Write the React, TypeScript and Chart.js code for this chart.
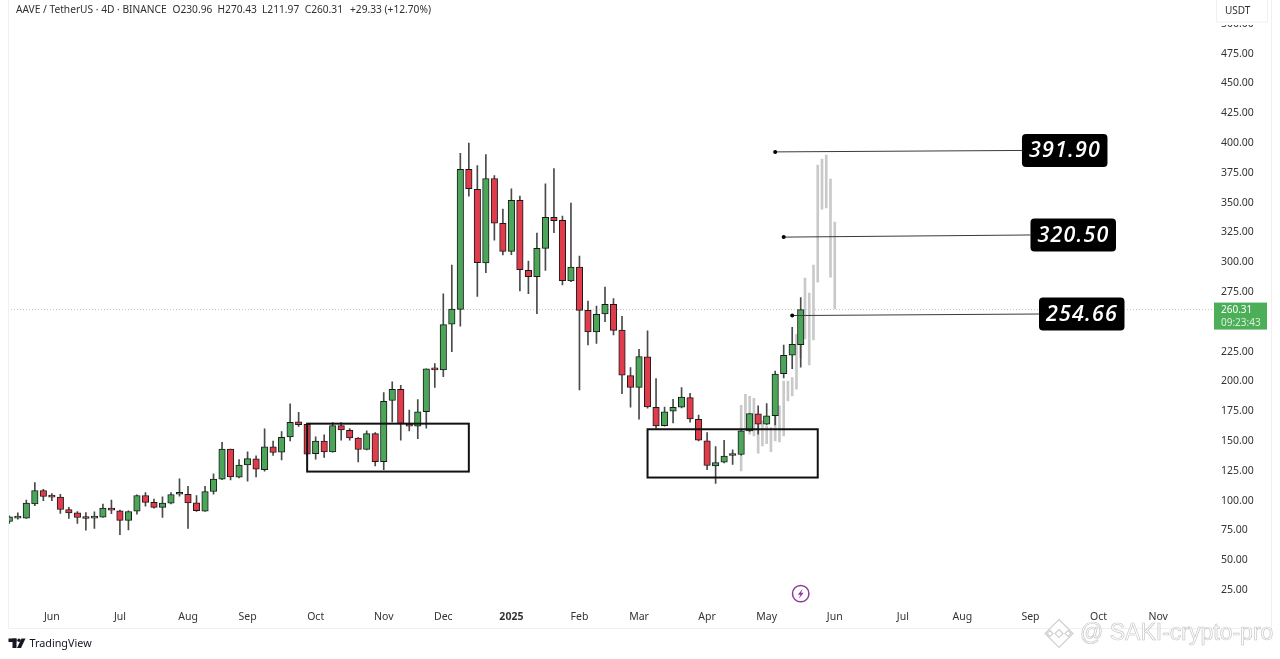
import React, { useEffect, useRef } from "react";
import { Chart, registerables } from "chart.js";

Chart.register(...registerables);

const opens = [82.5,85.3,85.3,97.3,108.5,103.5,102.9,92.6,89.8,85.3,85.3,86.2,93.1,91.5,83.4,91.2,104.3,98.5,94.3,97.9,105.4,105.4,98.2,91.2,107.7,118.0,143.2,119.7,130.0,135.0,126.1,145.1,140.6,153.5,166.1,164.1,139.5,149.9,140.9,163.0,159.1,152.4,142.9,156.3,132.8,184.0,193.5,164.1,162.5,174.7,210.2,209.7,248.0,260.5,377.9,361.1,299.4,370.3,332.6,309.1,351.9,293.2,287.9,311.7,337.6,335.1,284.3,296.0,259.7,241.5,256.6,264.7,243.2,204.9,195.1,220.6,178.4,163.0,175.0,178.4,186.5,168.3,150.2,129.2,132.3,137.9,138.7,158.5,172.8,164.1,171.4,206.6,222.0,230.96];
const highs = [87.3,89.8,100.4,115.2,109.6,106.0,105.4,94.3,90.9,90.1,90.6,97.1,100.4,92.0,91.5,104.9,106.8,101.3,103.2,106.8,118.3,112.1,104.3,112.1,122.5,149.0,143.2,134.5,140.9,137.6,160.2,149.9,158.0,181.2,174.2,164.7,153.5,155.2,165.5,165.5,160.5,153.0,158.5,157.1,190.7,199.6,196.8,175.9,184.8,210.5,215.0,273.6,297.7,391.3,399.9,381.2,390.4,372.8,344.6,361.7,355.5,301.0,324.5,365.9,378.7,338.8,349.6,305.2,267.5,263.3,279.2,269.5,254.6,211.6,227.0,242.4,202.4,178.6,185.1,194.8,190.1,171.7,157.1,145.4,150.7,142.6,159.9,173.1,179.5,181.4,208.8,230.6,245.4,270.43];
const lows = [80.9,84.5,85.0,95.7,99.9,99.9,89.2,85.0,80.9,75.3,76.7,85.9,89.0,71.4,75.5,88.7,95.4,93.7,85.9,97.3,103.8,76.7,90.9,90.9,105.4,117.7,117.4,119.1,116.3,120.0,124.7,137.9,134.2,150.1,162.2,137.6,134.8,136.2,140.7,150.7,150.7,132.6,142.6,129.2,126.1,166.1,150.7,158.5,152.1,160.8,194.9,204.1,225.0,246.3,355.5,271.4,291.3,318.6,306.1,306.3,275.9,273.7,256.9,293.2,324.8,280.9,283.7,192.9,230.6,232.0,250.2,239.0,189.8,178.4,168.3,177.5,160.8,162.4,165.2,177.8,165.8,150.2,126.1,114.4,131.7,130.3,138.2,158.0,155.7,163.8,163.5,203.0,210.8,211.97];
const closes = [86.4,85.9,97.9,108.5,103.5,102.9,92.6,89.8,85.9,85.0,85.9,93.7,92.0,83.4,90.9,104.3,98.5,94.3,97.9,105.2,106.0,98.2,91.5,107.7,118.0,143.2,120.0,129.8,135.3,126.4,145.1,140.4,153.2,165.8,163.8,139.0,149.9,140.9,163.0,159.4,152.7,142.9,156.3,132.8,183.4,193.5,164.7,162.5,174.5,210.5,209.7,247.7,260.8,377.9,361.7,299.6,370.3,332.9,309.1,351.9,293.8,287.9,311.7,337.6,334.8,284.6,296.0,259.7,241.5,256.3,264.7,242.9,205.2,195.1,220.8,178.6,162.7,174.5,178.4,186.8,168.6,150.7,129.5,132.0,137.3,138.4,158.5,173.1,164.1,171.1,206.3,222.0,231.2,260.31];

const ghostStart = 86;
const ghostStep = 0.5;
const ghostHighs = [180.0,189.3,187.6,185.9,172.5,166.9,162.7,161.3,172.5,179.5,200.4,200.4,203.2,239.6,256.3,286.8,274.2,297.7,381.5,386.6,389.9,369.8,333.7];
const ghostLows = [125.0,158.5,155.7,154.3,139.8,146.0,147.9,141.2,150.2,149.3,154.3,183.7,187.9,193.5,220.0,235.6,213.9,234.8,283.4,344.6,345.5,287.6,260.8];

const priceTicks = [25,50,75,100,125,150,175,200,225,250,275,300,325,350,375,400,425,450,475,500];
const monthPositions = [5,13,21,28,36,44,51,59,67,74,82,89,97,105,112,120,128,135];
const monthLabels = ["Jun","Jul","Aug","Sep","Oct","Nov","Dec","2025","Feb","Mar","Apr","May","Jun","Jul","Aug","Sep","Oct","Nov"];

const lastPrice = 260.31;
const targetLabels = ["391.90","320.50","254.66"];
const targetStartIdx = [90,91,92];
const targetStartVal = [392.6,321.1,255.3];
const targetEndIdx = [119,120,121];
const targetEndVal = [393.8,322.9,256.6];

const zoneX0 = [35,75];
const zoneX1 = [54,95];
const zoneTop = [164.6,159.9];
const zoneBottom = [124.4,119.4];

const headerTexts = ["AAVE / TetherUS · 4D · BINANCE","O230.96","H270.43","L211.97","C260.31","+29.33 (+12.70%)"];
const headerStarts = [16,172.5,217.5,262,304.7,350];

const GREEN = "#4ca65a";
const RED = "#e03c4c";
const BORDER = "#1a1a1a";
const WICK = "#4a4a4a";
const UI_FONT = '"Noto Sans"';
const X_MIN = -0.153;
const X_MAX = 141.33;
const Y_MIN = 13.3;
const Y_MAX = 507.2;

const overlay = {
  id: "overlay",
  afterDatasetsDraw(chart: any) {
    const { ctx, scales } = chart;
    const x = scales.x, y = scales.y;
    ctx.save();
    ctx.strokeStyle = "#111";
    ctx.lineWidth = 2;
    zoneX0.forEach((_, k) => {
      const l = x.getPixelForValue(zoneX0[k]);
      const r = x.getPixelForValue(zoneX1[k]);
      const t = y.getPixelForValue(zoneTop[k]);
      const b = y.getPixelForValue(zoneBottom[k]);
      ctx.strokeRect(l, t, r - l, b - t);
    });
    targetLabels.forEach((txt, k) => {
      const l = x.getPixelForValue(targetEndIdx[k]);
      const cy = y.getPixelForValue(targetEndVal[k]);
      ctx.fillStyle = "#000";
      ctx.beginPath();
      ctx.roundRect(l, cy - 16.5, 85.5, 33, 4);
      ctx.fill();
      ctx.fillStyle = "#fff";
      ctx.font = 'italic 600 21.5px "Open Sans"';
      (ctx as any).letterSpacing = "1.2px";
      ctx.textAlign = "center";
      ctx.textBaseline = "middle";
      ctx.fillText(txt, l + 43, cy + 0.5);
      (ctx as any).letterSpacing = "0px";
    });
    ctx.restore();
  },
  afterDraw(chart: any) {
    const { ctx, scales } = chart;
    const x = scales.x, y = scales.y;
    ctx.save();
    ctx.strokeStyle = "#f0f0f0";
    ctx.lineWidth = 1;
    ctx.beginPath();
    ctx.moveTo(8.5, 0); ctx.lineTo(8.5, 628.5); ctx.lineTo(1271.5, 628.5); ctx.lineTo(1271.5, 0);
    ctx.stroke();
    ctx.fillStyle = "#2f2f2f";
    ctx.font = `10.2px ${UI_FONT}`;
    ctx.textAlign = "left";
    ctx.textBaseline = "middle";
    headerTexts.forEach((t, k) => ctx.fillText(t, headerStarts[k], 10));
    ctx.fillStyle = "#fff";
    ctx.fillRect(1216, 0, 52, 25);
    ctx.strokeStyle = "#f0f0f0";
    ctx.strokeRect(1216.5, -1, 51, 23);
    ctx.fillStyle = "#2f2f2f";
    ctx.font = `10px ${UI_FONT}`;
    ctx.fillText("USDT", 1225, 11);
    const py = y.getPixelForValue(lastPrice);
    ctx.fillStyle = "#4caf58";
    ctx.fillRect(1214, py - 7, 53, 27);
    ctx.fillStyle = "#fff";
    ctx.font = `10px ${UI_FONT}`;
    ctx.fillText("260.31", 1221, py + 0.5);
    ctx.fillStyle = "#d8f0da";
    ctx.fillText("09:23:43", 1221, py + 13.5);
    const ix = x.getPixelForValue(93), iy = y.getPixelForValue(22);
    ctx.strokeStyle = "#8e3a9d";
    ctx.lineWidth = 1.5;
    ctx.beginPath(); ctx.arc(ix, iy, 8.2, 0, Math.PI * 2); ctx.stroke();
    ctx.fillStyle = "#8e3a9d";
    ctx.beginPath();
    ctx.moveTo(ix + 2, iy - 5); ctx.lineTo(ix - 3, iy + 1); ctx.lineTo(ix - 0.3, iy + 1);
    ctx.lineTo(ix - 2, iy + 5); ctx.lineTo(ix + 3, iy - 1); ctx.lineTo(ix + 0.3, iy - 1);
    ctx.closePath(); ctx.fill();
    ctx.fillStyle = "#131722";
    ctx.fillRect(8.5, 638.5, 8, 3.5);
    ctx.fillRect(12.5, 638.5, 4, 9.5);
    ctx.beginPath(); ctx.arc(19, 640.2, 1.7, 0, Math.PI * 2); ctx.fill();
    ctx.beginPath();
    ctx.moveTo(21.5, 638.5); ctx.lineTo(25.5, 638.5); ctx.lineTo(21, 648); ctx.lineTo(17, 648);
    ctx.closePath(); ctx.fill();
    ctx.font = `10.8px ${UI_FONT}`;
    ctx.fillText("TradingView", 29.5, 643.5);
    const cx = 1059, cy = 633.5;
    ctx.strokeStyle = "#d0d0d0";
    ctx.fillStyle = "rgba(255,255,255,0.85)";
    ctx.lineWidth = 1.2;
    const diamond = (dx: number, dy: number, r: number) => {
      ctx.beginPath();
      ctx.moveTo(cx + dx, cy + dy - r); ctx.lineTo(cx + dx + r, cy + dy);
      ctx.lineTo(cx + dx, cy + dy + r); ctx.lineTo(cx + dx - r, cy + dy);
      ctx.closePath(); ctx.fill(); ctx.stroke();
    };
    diamond(0, 0, 14);
    ctx.fillStyle = "#fff";
    diamond(0, 0, 4);
    diamond(-9, 0, 3);
    diamond(9, 0, 3);
    ctx.font = '23px "Liberation Sans"';
    ctx.lineWidth = 0.7;
    ctx.strokeStyle = "#c8c8c8";
    ctx.fillStyle = "rgba(255,255,255,0.9)";
    ctx.fillText("@ SAKI-crypto-pro", 1080, 634);
    ctx.strokeText("@ SAKI-crypto-pro", 1080, 634);
    ctx.restore();
  },
};

export default function App() {
  const ref = useRef<HTMLCanvasElement>(null);
  useEffect(() => {
    const indices = opens.map((_, i) => i);
    const colors = indices.map((i) => (closes[i] >= opens[i] ? GREEN : RED));
    const leaders = targetLabels.map((_, k) => ({
      type: "line" as const,
      order: 10,
      xAxisID: "x",
      data: [
        { x: targetStartIdx[k], y: targetStartVal[k] },
        { x: targetEndIdx[k], y: targetEndVal[k] },
      ],
      borderColor: "#3a3a3a",
      backgroundColor: "#000",
      borderWidth: 1,
      pointRadius: [2, 0],
      pointBorderWidth: 0,
      tension: 0,
    }));
    const chart = new Chart(ref.current as HTMLCanvasElement, {
      type: "bar",
      data: {
        datasets: [
          {
            type: "line",
            order: 50,
            xAxisID: "x",
            data: [{ x: X_MIN, y: lastPrice }, { x: X_MAX, y: lastPrice }],
            borderColor: "#b5cfb8",
            borderWidth: 1,
            borderDash: [1, 2],
            pointRadius: 0,
          },
          {
            order: 40,
            xAxisID: "xGhost",
            data: ghostHighs.map((h, k) => ({ x: ghostStart + k * ghostStep, y: [ghostLows[k], h] })),
            backgroundColor: "#c9c9c9",
            maxBarThickness: 2,
            barPercentage: 1,
            categoryPercentage: 1,
            grouped: false,
            borderWidth: 0,
          },
          {
            order: 30,
            xAxisID: "x",
            data: indices.map((i) => ({ x: i, y: [lows[i], highs[i]] })),
            backgroundColor: WICK,
            maxBarThickness: 1,
            barPercentage: 1,
            categoryPercentage: 1,
            grouped: false,
            borderWidth: 0,
          },
          {
            order: 20,
            xAxisID: "x",
            data: indices.map((i) => ({ x: i, y: [opens[i], closes[i]] })),
            backgroundColor: colors,
            borderColor: BORDER,
            borderWidth: 1,
            borderSkipped: false,
            minBarLength: 2,
            maxBarThickness: 6.5,
            barPercentage: 1,
            categoryPercentage: 1,
            grouped: false,
          },
          ...leaders,
        ],
      } as any,
      options: {
        responsive: false,
        animation: false,
        devicePixelRatio: 1,
        layout: { autoPadding: false, padding: { left: 8, top: 0, right: 9, bottom: 31 } },
        plugins: { legend: { display: false }, tooltip: { enabled: false }, title: { display: false } },
        scales: {
          x: {
            type: "linear",
            min: X_MIN,
            max: X_MAX,
            offset: false,
            grid: { display: false, drawTicks: false },
            border: { display: false },
            afterBuildTicks: (s: any) => {
              s.ticks = monthPositions.map((value) => ({ value }));
            },
            afterFit: (s: any) => { s.height = 24; },
            ticks: {
              autoSkip: false,
              maxRotation: 0,
              padding: 7,
              color: "#333",
              font: (c: any) => ({ family: "Noto Sans", size: 10.5, weight: c.tick && c.tick.value === 59 ? "bold" : "normal" }),
              callback: (v: any) => monthLabels[monthPositions.indexOf(Number(v))] ?? "",
            },
          },
          xGhost: { type: "linear", min: X_MIN, max: X_MAX, offset: false, display: false },
          y: {
            position: "right",
            type: "linear",
            min: Y_MIN,
            max: Y_MAX,
            grid: { display: false, drawTicks: false },
            border: { display: false },
            afterBuildTicks: (s: any) => {
              s.ticks = priceTicks.map((value) => ({ value }));
            },
            afterFit: (s: any) => { s.width = 59; },
            ticks: {
              autoSkip: false,
              padding: 9,
              color: "#333",
              font: { family: "Noto Sans", size: 10.5 },
              callback: (v: any) => Number(v).toFixed(2),
            },
          },
        },
      } as any,
      plugins: [overlay],
    });
    return () => chart.destroy();
  }, []);
  return (
    <div style={{ position: "absolute", left: 0, top: 0, width: 1280, height: 659, background: "#fff" }}>
      <canvas ref={ref} width={1280} height={659} style={{ display: "block" }} />
    </div>
  );
}
